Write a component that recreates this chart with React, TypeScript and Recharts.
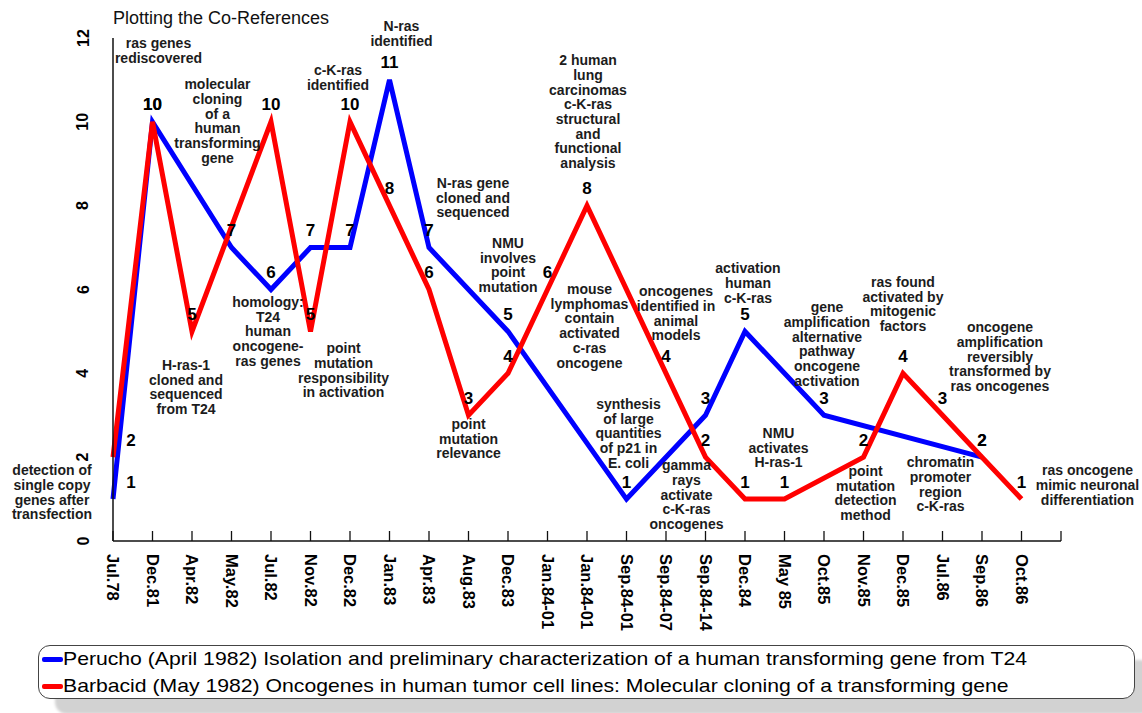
import React from "react";
import { LineChart, Line, XAxis, YAxis, LabelList } from "recharts";

// categorias do eixo X (a última fica vazia, só o tick)
const categorias = [
  "Jul.78", "Dec.81", "Apr.82", "May.82", "Jul.82", "Nov.82", "Dec.82", "Jan.83",
  "Apr.83", "Aug.83", "Dec.83", "Jan.84-01", "Jan.84-01", "Sep.84-01", "Sep.84-07",
  "Sep.84-14", "Dec.84", "May 85", "Oct.85", "Nov.85", "Dec.85", "Jul.86", "Sep.86",
  "Oct.86", "",
];

const perucho = [1, 10, null, 7, 6, 7, 7, 11, 7, null, 5, null, null, 1, null, 3, 5, null, 3, null, null, null, 2, null, null];
const barbacid = [2, 10, 5, null, 10, 5, 10, 8, 6, 3, 4, 6, 8, null, 4, 2, 1, 1, null, 2, 4, 3, 2, 1, null];

const ticksY = [0, 2, 4, 6, 8, 10, 12];

const eventos = [
  "detection of\nsingle copy\ngenes after\ntransfection",
  "ras genes\nrediscovered",
  "H-ras-1\ncloned and\nsequenced\nfrom T24",
  "molecular\ncloning\nof a\nhuman\ntransforming\ngene",
  "homology:\nT24\nhuman\noncogene-\nras genes",
  "point\nmutation\nresponsibility\nin activation",
  "c-K-ras\nidentified",
  "N-ras\nidentified",
  "N-ras gene\ncloned and\nsequenced",
  "point\nmutation\nrelevance",
  "NMU\ninvolves\npoint\nmutation",
  "mouse\nlymphomas\ncontain\nactivated\nc-ras\noncogene",
  "2 human\nlung\ncarcinomas\nc-K-ras\nstructural\nand\nfunctional\nanalysis",
  "synthesis\nof large\nquantities\nof p21 in\nE. coli",
  "oncogenes\nidentified in\nanimal\nmodels",
  "gamma\nrays\nactivate\nc-K-ras\noncogenes",
  "activation\nhuman\nc-K-ras",
  "NMU\nactivates\nH-ras-1",
  "gene\namplification\nalternative\npathway\noncogene\nactivation",
  "point\nmutation\ndetection\nmethod",
  "ras found\nactivated by\nmitogenic\nfactors",
  "chromatin\npromoter\nregion\nc-K-ras",
  "oncogene\namplification\nreversibly\ntransformed by\nras oncogenes",
  "ras oncogene\nmimic neuronal\ndifferentiation",
];

const series = [
  { chave: "perucho", cor: "#0000ff", nome: "Perucho (April 1982) Isolation and preliminary characterization of a human transforming gene from T24" },
  { chave: "barbacid", cor: "#ff0000", nome: "Barbacid (May 1982) Oncogenes in human tumor cell lines: Molecular cloning of a transforming gene" },
];

// posição das notas: [deslocamento x em px, altura da 1a linha em unidades do eixo Y]
const posNotas: Array<[number, number]> = [
  [-61, 1.69], [6, 11.88], [-6, 4.2], [-14, 10.9], [-3, 5.7], [33, 4.6], [-12, 11.24],
  [12, 12.29], [44, 8.54], [0, 2.79], [0, 7.11], [42, 6.01], [1, 11.47], [2, 3.27],
  [10, 5.96], [-19, 1.81], [3, 6.51], [-6, 2.58], [3, 5.58], [2, 1.67], [0, 6.18],
  [-2, 1.88], [18, 5.1], [66, 1.69],
];

const dados = categorias.map((c, i) => ({
  cat: c,
  perucho: perucho[i],
  barbacid: barbacid[i],
  nota: i < posNotas.length ? posNotas[i][1] : null,
}));

const FONTE = "'Liberation Sans', Arial, sans-serif";

const TickX = (props: any) => {
  const { x, y, payload } = props;
  return (
    <g>
      <line x1={x} y1={y} x2={x} y2={y - 10} stroke="#111" strokeWidth={1.3} />
      <text
        x={x}
        y={y + 13}
        transform={`rotate(90, ${x}, ${y + 13})`}
        textAnchor="start"
        dominantBaseline="central"
        fontFamily={FONTE}
        fontWeight="bold"
        fontSize={16.5}
        fill="#000"
      >
        {payload.value}
      </text>
    </g>
  );
};

const TickY = (props: any) => {
  const { x, y, payload } = props;
  const cx = x - 30;
  return (
    <text
      x={cx}
      y={y}
      transform={`rotate(-90, ${cx}, ${y})`}
      textAnchor="middle"
      dominantBaseline="central"
      fontFamily={FONTE}
      fontWeight="bold"
      fontSize={16}
      fill="#000"
    >
      {payload.value}
    </text>
  );
};

const rotuloValor = (props: any) => {
  const { x, y, value, index } = props;
  if (value == null || y == null) return null;
  const dx = index === 0 ? 18 : 0;
  return (
    <text
      x={x + dx}
      y={y - 17}
      textAnchor="middle"
      dominantBaseline="central"
      fontFamily={FONTE}
      fontWeight="bold"
      fontSize={17}
      fill="#000"
    >
      {value}
    </text>
  );
};

const rotuloNota = (props: any) => {
  const { x, y, index } = props;
  if (y == null || index >= eventos.length) return null;
  const linhas = eventos[index].split("\n");
  const cx = x + posNotas[index][0];
  return (
    <text
      textAnchor="middle"
      fontFamily={FONTE}
      fontWeight="bold"
      fontSize={14}
      fill="#1c1c1c"
    >
      {linhas.map((l, k) => (
        <tspan key={k} x={cx} y={y + k * 14.7} dominantBaseline="central">
          {l}
        </tspan>
      ))}
    </text>
  );
};

export default function App() {
  return (
    <div style={{ position: "absolute", left: 0, top: 0, width: 1142, height: 713, background: "#fff" }}>
      <div
        style={{
          position: "absolute",
          left: 113,
          top: 8,
          fontFamily: FONTE,
          fontSize: 18,
          color: "#111",
        }}
      >
        Plotting the Co-References
      </div>
      <LineChart width={1142} height={713} data={dados} margin={{ top: 38, right: 81, left: 0, bottom: 0 }}>
        <XAxis
          dataKey="cat"
          height={172}
          interval={0}
          tickSize={0}
          tickMargin={0}
          tickLine={false}
          tick={<TickX />}
          axisLine={{ stroke: "#111", strokeWidth: 1.5 }}
        />
        <YAxis
          width={113}
          domain={[0, 12]}
          ticks={ticksY}
          allowDataOverflow
          interval={0}
          tickSize={0}
          tickMargin={0}
          tickLine={false}
          tick={<TickY />}
          axisLine={{ stroke: "#111", strokeWidth: 1.5 }}
        />
        {series.map((s) => (
          <Line
            key={s.chave}
            type="linear"
            dataKey={s.chave}
            stroke={s.cor}
            strokeWidth={5}
            dot={false}
            activeDot={false}
            connectNulls
            isAnimationActive={false}
          >
            <LabelList dataKey={s.chave} content={rotuloValor} />
          </Line>
        ))}
        <Line
          type="linear"
          dataKey="nota"
          stroke="none"
          dot={false}
          activeDot={false}
          legendType="none"
          isAnimationActive={false}
        >
          <LabelList dataKey="nota" content={rotuloNota} />
        </Line>
      </LineChart>
      <div
        style={{
          position: "absolute",
          left: 38,
          top: 645,
          width: 1097,
          height: 54,
          boxSizing: "border-box",
          border: "1.5px solid #444",
          borderRadius: 12,
          background: "#fff",
          boxShadow: "17px 15px 3px #d2d2d2",
          fontFamily: FONTE,
          fontSize: 19,
          color: "#000",
        }}
      >
        {series.map((s, i) => (
          <div
            key={s.chave}
            style={{
              position: "absolute",
              left: 3,
              top: 2 + i * 27,
              height: 22,
              display: "flex",
              alignItems: "center",
              whiteSpace: "nowrap",
            }}
          >
            <span style={{ display: "inline-block", width: 21, height: 5, background: s.cor, borderRadius: 2 }} />
            <span style={{ display: "inline-block", transform: "scaleX(1.115)", transformOrigin: "left center" }}>
              {s.nome}
            </span>
          </div>
        ))}
      </div>
    </div>
  );
}
